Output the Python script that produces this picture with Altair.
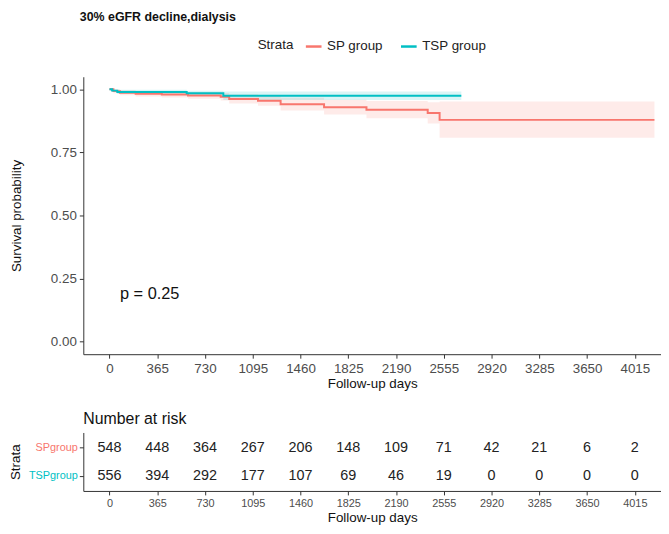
import altair as alt
import pandas as pd

# ---- data ----
groups = ["SP group", "TSP group"]
colors = ["#F8766D", "#00BFC4"]

sp_day = [0, 30, 80, 200, 400, 600, 850, 915, 1135, 1308, 1640, 1964, 2432, 2523, 4165]
sp_surv = [1.0, 0.993, 0.987, 0.983, 0.980, 0.976, 0.971, 0.962, 0.955, 0.941, 0.929, 0.919, 0.906, 0.879, 0.879]
sp_low = [1.0, 0.985, 0.977, 0.972, 0.968, 0.963, 0.956, 0.944, 0.935, 0.916, 0.900, 0.885, 0.865, 0.808, 0.808]
sp_up = [1.0, 1.0, 0.997, 0.994, 0.992, 0.990, 0.986, 0.980, 0.976, 0.967, 0.959, 0.954, 0.949, 0.952, 0.952]

tsp_day = [0, 20, 60, 590, 870, 2689]
tsp_surv = [1.0, 0.995, 0.990, 0.985, 0.975, 0.975]
tsp_low = [1.0, 0.990, 0.982, 0.976, 0.958, 0.958]
tsp_up = [1.0, 1.0, 0.998, 0.995, 0.992, 0.992]

risk_times = [0, 365, 730, 1095, 1460, 1825, 2190, 2555, 2920, 3285, 3650, 4015]
risk_sp = [548, 448, 364, 267, 206, 148, 109, 71, 42, 21, 6, 2]
risk_tsp = [556, 394, 292, 177, 107, 69, 46, 19, 0, 0, 0, 0]
risk_labels = ["SPgroup", "TSPgroup"]

p_text = "p = 0.25"

# ---- tables ----
curve = pd.concat([
    pd.DataFrame({"day": sp_day, "surv": sp_surv, "low": sp_low, "up": sp_up, "Strata": groups[0]}),
    pd.DataFrame({"day": tsp_day, "surv": tsp_surv, "low": tsp_low, "up": tsp_up, "Strata": groups[1]}),
])
risk = pd.concat([
    pd.DataFrame({"day": risk_times, "n": risk_sp, "row": risk_labels[0]}),
    pd.DataFrame({"day": risk_times, "n": risk_tsp, "row": risk_labels[1]}),
])

FONT = "Liberation Sans"
W = 583
xdom = [-200, 4215]
xscale = alt.Scale(domain=xdom, nice=False, zero=False)
legend = alt.Legend(orient="none", direction="horizontal", titleOrient="left",
                    legendX=176, legendY=-40, symbolType="stroke",
                    symbolStrokeWidth=2.5, symbolSize=250, symbolOpacity=1,
                    labelFontSize=13.5, titleFontSize=13.5,
                    titleFontWeight="normal", titleColor="#222",
                    labelColor="#222", columnPadding=12, titlePadding=10)
color = alt.Color("Strata:N", scale=alt.Scale(domain=groups, range=colors), legend=legend)

xaxis_main = alt.Axis(values=risk_times, format="d", title="Follow-up days", labelFontSize=13.5,
                      labelColor="#4D4D4D", titleFontSize=13.5, titleFontWeight="normal",
                      titleColor="#111", grid=False, tickColor="#333", domainColor="#333",
                      tickSize=4, labelPadding=3, titlePadding=2)
yaxis_main = alt.Axis(values=[0, 0.25, 0.5, 0.75, 1.0], format=".2f",
                      title="Survival probability", labelFontSize=13.5,
                      labelColor="#4D4D4D", titleFontSize=13.5, titleFontWeight="normal",
                      titleColor="#111", grid=False, tickColor="#333", domainColor="#333",
                      tickSize=4, labelPadding=3, titlePadding=27)
yscale = alt.Scale(domain=[-0.05, 1.05], nice=False, zero=False)

base = alt.Chart(curve)
band = base.mark_area(interpolate="step-after", fillOpacity=0.15).encode(
    x=alt.X("day:Q", scale=xscale, axis=xaxis_main),
    y=alt.Y("low:Q", scale=yscale, axis=yaxis_main), y2="up:Q",
    color=color,
)
line = base.mark_line(interpolate="step-after", strokeWidth=2).encode(
    x=alt.X("day:Q", scale=xscale, axis=xaxis_main),
    y=alt.Y("surv:Q", scale=yscale, axis=yaxis_main),
    color=color,
)
ptxt = alt.Chart(pd.DataFrame({"day": [80], "s": [0.19], "t": [p_text]})).mark_text(
    align="left", baseline="middle", fontSize=16.5, font=FONT, color="#111"
).encode(x=alt.X("day:Q", scale=xscale), y=alt.Y("s:Q", scale=yscale), text="t:N")

main = alt.layer(band, line, ptxt).properties(width=W, height=280)

table = alt.Chart(risk).mark_text(fontSize=14.5, font=FONT, color="#222").encode(
    x=alt.X("day:Q", scale=xscale,
            axis=alt.Axis(values=risk_times, format="d", title="Follow-up days", labelFontSize=11,
                          labelColor="#4D4D4D", titleFontSize=13.5, titleFontWeight="normal",
                          titleColor="#111", grid=False, tickColor="#333", domainColor="#333",
                          tickSize=4, labelPadding=3, titlePadding=2)),
    y=alt.Y("row:N", scale=alt.Scale(domain=risk_labels, padding=0.55),
            axis=alt.Axis(title="Strata", labelFontSize=11,
                          labelColor=alt.ExprRef("datum.value == 'SPgroup' ? '#F8766D' : '#00BFC4'"),
                          titleFontSize=13.5, titleFontWeight="normal", titleColor="#111",
                          tickColor="#333", domainColor="#333", tickSize=4, labelPadding=2,
                          titlePadding=6, grid=False)),
    text="n:Q",
).properties(width=W, height=59,
             title=alt.TitleParams("Number at risk", anchor="start", frame="group", fontSize=16,
                                   fontWeight="normal", color="#111", font=FONT, offset=6))

chart = alt.vconcat(main, table, spacing=21).properties(
    padding={"left": 0, "top": 0, "right": 0, "bottom": 0},
    title=alt.TitleParams("30% eGFR decline,dialysis", anchor="start", fontSize=12.5,
                          fontWeight="bold", color="#111", font=FONT, offset=14, dx=72),
).configure(font=FONT).configure_view(stroke=None)

chart.save("out.html", embed_options={"renderer": "svg", "actions": False})
